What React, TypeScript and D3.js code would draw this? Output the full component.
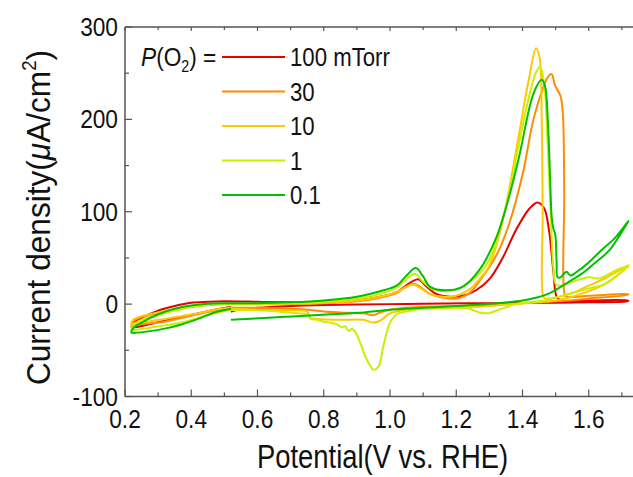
import React from 'react';
import * as d3 from 'd3';

// ---- data (potential V vs RHE, current density µA/cm²) ----
// each series: start at 0.52 V -> cathodic to 0.22 -> anodic to 1.72 -> cathodic back to 0.52
const seriesLabels = ['100 mTorr', '30', '10', '1', '0.1'];
const seriesColors = ['#e60000', '#ff8c00', '#ffc800', '#c8f000', '#00c000'];

const p100: [number, number][] = [
  [0.52, -3], [0.47, -6], [0.42, -10], [0.37, -14], [0.32, -18], [0.27, -22], [0.23, -25], [0.22, -25],
  [0.225, -21], [0.25, -15], [0.3, -7], [0.35, -2], [0.4, 1.5], [0.45, 2.5], [0.5, 3], [0.6, 2.5], [0.7, 2],
  [0.8, 2], [0.9, 4], [0.97, 8], [1.02, 13], [1.06, 23], [1.085, 27], [1.11, 19], [1.14, 11], [1.18, 8],
  [1.22, 9], [1.26, 15], [1.3, 27], [1.34, 50], [1.38, 80], [1.42, 103], [1.445, 110], [1.465, 104],
  [1.48, 80], [1.493, 36], [1.503, 8], [1.515, 4], [1.6, 4], [1.72, 4],
  [1.715, 3], [1.6, 2], [1.5, 1.5], [1.3, 1], [1.1, 0.5], [1.0, 0], [0.8, -1], [0.7, -2], [0.6, -4],
  [0.53, -7], [0.52, -8.5],
];

const p30: [number, number][] = [
  [0.52, -4], [0.47, -7], [0.42, -11], [0.37, -15], [0.32, -19], [0.27, -21], [0.23, -22], [0.22, -22],
  [0.225, -18], [0.25, -14], [0.3, -10], [0.35, -6], [0.4, -3], [0.45, -1], [0.5, 0], [0.6, 0], [0.7, 0],
  [0.8, 1], [0.9, 3], [0.97, 7], [1.02, 12], [1.05, 19], [1.07, 22], [1.09, 19], [1.12, 11], [1.16, 7],
  [1.2, 6], [1.24, 12], [1.27, 25], [1.32, 52], [1.357, 84], [1.4, 140], [1.433, 200], [1.46, 232],
  [1.475, 245], [1.488, 249], [1.497, 238], [1.505, 232], [1.515, 225], [1.522, 205], [1.526, 120],
  [1.528, 10], [1.535, 8], [1.6, 9], [1.72, 11],
  [1.715, 10], [1.6, 6], [1.5, 3], [1.4, 1], [1.3, -1], [1.2, -2], [1.05, -4], [1.0, -6], [0.97, -9],
  [0.95, -12], [0.92, -10], [0.85, -9], [0.8, -8], [0.75, -6], [0.7, -5], [0.6, -4], [0.52, -4],
];

const p10: [number, number][] = [
  [0.52, -4], [0.47, -6], [0.42, -10], [0.37, -13], [0.32, -16], [0.27, -19], [0.23, -21], [0.22, -21],
  [0.225, -17], [0.25, -13], [0.3, -9], [0.35, -5], [0.4, -2], [0.45, -1], [0.5, 0], [0.6, 0], [0.7, 0.5],
  [0.8, 1.5], [0.9, 4], [0.97, 8], [1.02, 13], [1.05, 19], [1.07, 21], [1.09, 18], [1.12, 11], [1.16, 8],
  [1.2, 9], [1.24, 16], [1.27, 27], [1.3, 42], [1.33, 75], [1.36, 125], [1.39, 185], [1.42, 245],
  [1.441, 277], [1.452, 266], [1.458, 200], [1.461, 100], [1.463, 8], [1.47, 6], [1.55, 12], [1.6, 20],
  [1.65, 28], [1.72, 42],
  [1.715, 40], [1.65, 22], [1.6, 14], [1.55, 8], [1.5, 4], [1.4, 1], [1.3, -2], [1.2, -4], [1.05, -6],
  [1.0, -10], [0.97, -18], [0.95, -20], [0.92, -17], [0.85, -17], [0.78, -16], [0.76, -15], [0.75, -8],
  [0.7, -7], [0.6, -6], [0.52, -5],
];

const p1: [number, number][] = [
  [0.52, -6], [0.47, -10], [0.42, -15], [0.37, -20], [0.32, -23], [0.27, -26], [0.23, -28], [0.22, -28],
  [0.225, -22], [0.25, -17], [0.3, -12], [0.35, -7], [0.4, -3], [0.45, -1], [0.5, 0], [0.6, 0.5], [0.7, 1],
  [0.8, 2.5], [0.9, 6], [0.97, 11], [1.02, 18], [1.05, 27], [1.075, 33], [1.1, 24], [1.13, 16], [1.17, 14],
  [1.21, 17], [1.24, 24], [1.27, 33], [1.3, 48], [1.33, 80], [1.36, 120], [1.39, 175], [1.42, 225],
  [1.44, 250], [1.453, 257], [1.465, 240], [1.475, 180], [1.485, 100], [1.493, 40], [1.5, 22], [1.51, 20],
  [1.55, 24], [1.6, 29], [1.634, 28], [1.684, 37], [1.72, 41],
  [1.715, 40], [1.65, 22], [1.6, 17], [1.55, 12], [1.5, 7], [1.45, 3], [1.38, 0], [1.33, -6], [1.3, -9.5],
  [1.27, -9], [1.24, -5], [1.2, -4], [1.1, -5], [1.05, -8], [1.02, -11], [1.0, -20], [0.98, -45],
  [0.965, -68], [0.95, -71], [0.93, -60], [0.91, -42], [0.895, -30], [0.885, -27], [0.875, -29],
  [0.865, -24], [0.855, -25], [0.84, -22], [0.82, -20], [0.8, -19], [0.78, -17], [0.76, -16], [0.75, -11],
  [0.72, -10], [0.62, -7], [0.52, -6],
];

const p01: [number, number][] = [
  [0.52, -5], [0.47, -9], [0.42, -16], [0.37, -22], [0.32, -26.5], [0.27, -29.5], [0.23, -31], [0.22, -31],
  [0.225, -26], [0.25, -20], [0.3, -11], [0.35, -5], [0.4, -1.5], [0.45, 0.5], [0.5, 1], [0.6, 1], [0.7, 2],
  [0.8, 4], [0.9, 8], [0.97, 14], [1.02, 20], [1.05, 31], [1.078, 39], [1.1, 30], [1.12, 19], [1.171, 15],
  [1.22, 19], [1.27, 37], [1.322, 73], [1.357, 113], [1.39, 160], [1.433, 228], [1.458, 243],
  [1.468, 236], [1.477, 195], [1.483, 140], [1.488, 95], [1.493, 82], [1.499, 75], [1.503, 45],
  [1.506, 29], [1.515, 29], [1.525, 33], [1.533, 35], [1.545, 31], [1.56, 34], [1.6, 45], [1.634, 57],
  [1.68, 72], [1.72, 90],
  [1.715, 87], [1.664, 59], [1.62, 45], [1.583, 34], [1.53, 22], [1.483, 12], [1.43, 6], [1.4, 4],
  [1.332, 1.3], [1.25, -1], [1.2, -2], [1.1, -4], [1.0, -6], [0.92, -9], [0.82, -11], [0.72, -13],
  [0.62, -15], [0.52, -17],
];

const seriesData = [p100, p30, p10, p1, p01];

const xMajorTicks = [0.2, 0.4, 0.6, 0.8, 1.0, 1.2, 1.4, 1.6];
const xMinorTicks = [0.3, 0.5, 0.7, 0.9, 1.1, 1.3, 1.5, 1.7];
const yMajorTicks = [-100, 0, 100, 200, 300];
const yMinorTicks = [-50, 50, 150, 250];

const W = 633;
const H = 477;
const L = 125, R = 633, T = 27, B = 396.5;
const FONT = '"Liberation Sans", Arial, Helvetica, sans-serif';
const AX = '#555';

export default function App() {
  const x = d3.scaleLinear().domain([0.2, 0.2 + (R - L) / 331.25]).range([L, R]);
  const y = d3.scaleLinear().domain([-100, 300]).range([B, T]);
  const line = d3
    .line<[number, number]>()
    .x((d) => x(d[0]))
    .y((d) => y(d[1]))
    .curve(d3.curveCatmullRom.alpha(0.5));

  const legendY = [57, 91.5, 126, 160.5, 195];
  const sx = 0.89;

  return (
    <svg
      width={W}
      height={H}
      style={{ position: 'absolute', left: 0, top: 0, background: '#fff' }}
      fontFamily={FONT}
    >
      <defs>
        <clipPath id="plot">
          <rect x={L} y={T} width={R - L} height={B - T} />
        </clipPath>
      </defs>
      {/* frame */}
      <line x1={L} y1={T} x2={L} y2={B} stroke={AX} strokeWidth={1.5} />
      <line x1={L} y1={B} x2={R} y2={B} stroke={AX} strokeWidth={1.5} />
      <line x1={L} y1={T} x2={R} y2={T} stroke={AX} strokeWidth={1.5} />
      {/* x ticks */}
      {xMajorTicks.map((t) => (
        <g key={'xm' + t}>
          <line x1={x(t)} x2={x(t)} y1={B} y2={B - 7} stroke={AX} strokeWidth={1.2} />
          <line x1={x(t)} x2={x(t)} y1={T} y2={T + 4} stroke={AX} strokeWidth={1.2} />
          <text
            transform={`translate(${x(t)},${B + 31}) scale(${sx},1)`}
            textAnchor="middle"
            fontSize={25.5}
            fill="#111"
          >
            {t.toFixed(1)}
          </text>
        </g>
      ))}
      {xMinorTicks.map((t) => (
        <g key={'xn' + t}>
          <line x1={x(t)} x2={x(t)} y1={B} y2={B - 4} stroke={AX} strokeWidth={1.2} />
          <line x1={x(t)} x2={x(t)} y1={T} y2={T + 3} stroke={AX} strokeWidth={1.2} />
        </g>
      ))}
      {/* y ticks */}
      {yMajorTicks.map((t) => (
        <g key={'ym' + t}>
          <line x1={L} x2={L + 7} y1={y(t)} y2={y(t)} stroke={AX} strokeWidth={1.2} />
          <text
            transform={`translate(${L - 7},${y(t) + 9}) scale(${sx},1)`}
            textAnchor="end"
            fontSize={25.5}
            fill="#111"
          >
            {t}
          </text>
        </g>
      ))}
      {yMinorTicks.map((t) => (
        <line key={'yn' + t} x1={L} x2={L + 4} y1={y(t)} y2={y(t)} stroke={AX} strokeWidth={1.2} />
      ))}
      {/* curves */}
      <g clipPath="url(#plot)">
        {seriesData.map((s, i) => (
          <path
            key={i}
            d={line(s) || ''}
            fill="none"
            stroke={seriesColors[i]}
            strokeWidth={2}
            strokeLinejoin="round"
          />
        ))}
      </g>
      {/* legend */}
      <text transform={`translate(141,66) scale(${sx},1)`} fontSize={25.5} fill="#111">
        <tspan fontStyle="italic">P</tspan>
        <tspan>(O</tspan>
        <tspan fontSize={16} dy={6}>2</tspan>
        <tspan dy={-6}>) =</tspan>
      </text>
      {seriesLabels.map((lab, i) => (
        <g key={'lg' + i}>
          <line x1={222} x2={285} y1={legendY[i]} y2={legendY[i]} stroke={seriesColors[i]} strokeWidth={2} />
          <text
            transform={`translate(290,${legendY[i] + 9}) scale(0.87,1)`}
            fontSize={25.5}
            fill="#111"
          >
            {lab}
          </text>
        </g>
      ))}
      {/* axis titles */}
      <text
        transform={`translate(382.5,468) scale(0.83,1)`}
        textAnchor="middle"
        fontSize={33}
        fill="#111"
      >
        Potential(V vs. RHE)
      </text>
      <text
        transform={`translate(50,217.5) rotate(-90) scale(0.93,1)`}
        textAnchor="middle"
        fontSize={34}
        fill="#111"
      >
        <tspan>Current density(</tspan>
        <tspan fontStyle="italic">μ</tspan>
        <tspan>A/cm</tspan>
        <tspan fontSize={20} dy={-14}>2</tspan>
        <tspan dy={14}>)</tspan>
      </text>
    </svg>
  );
}
